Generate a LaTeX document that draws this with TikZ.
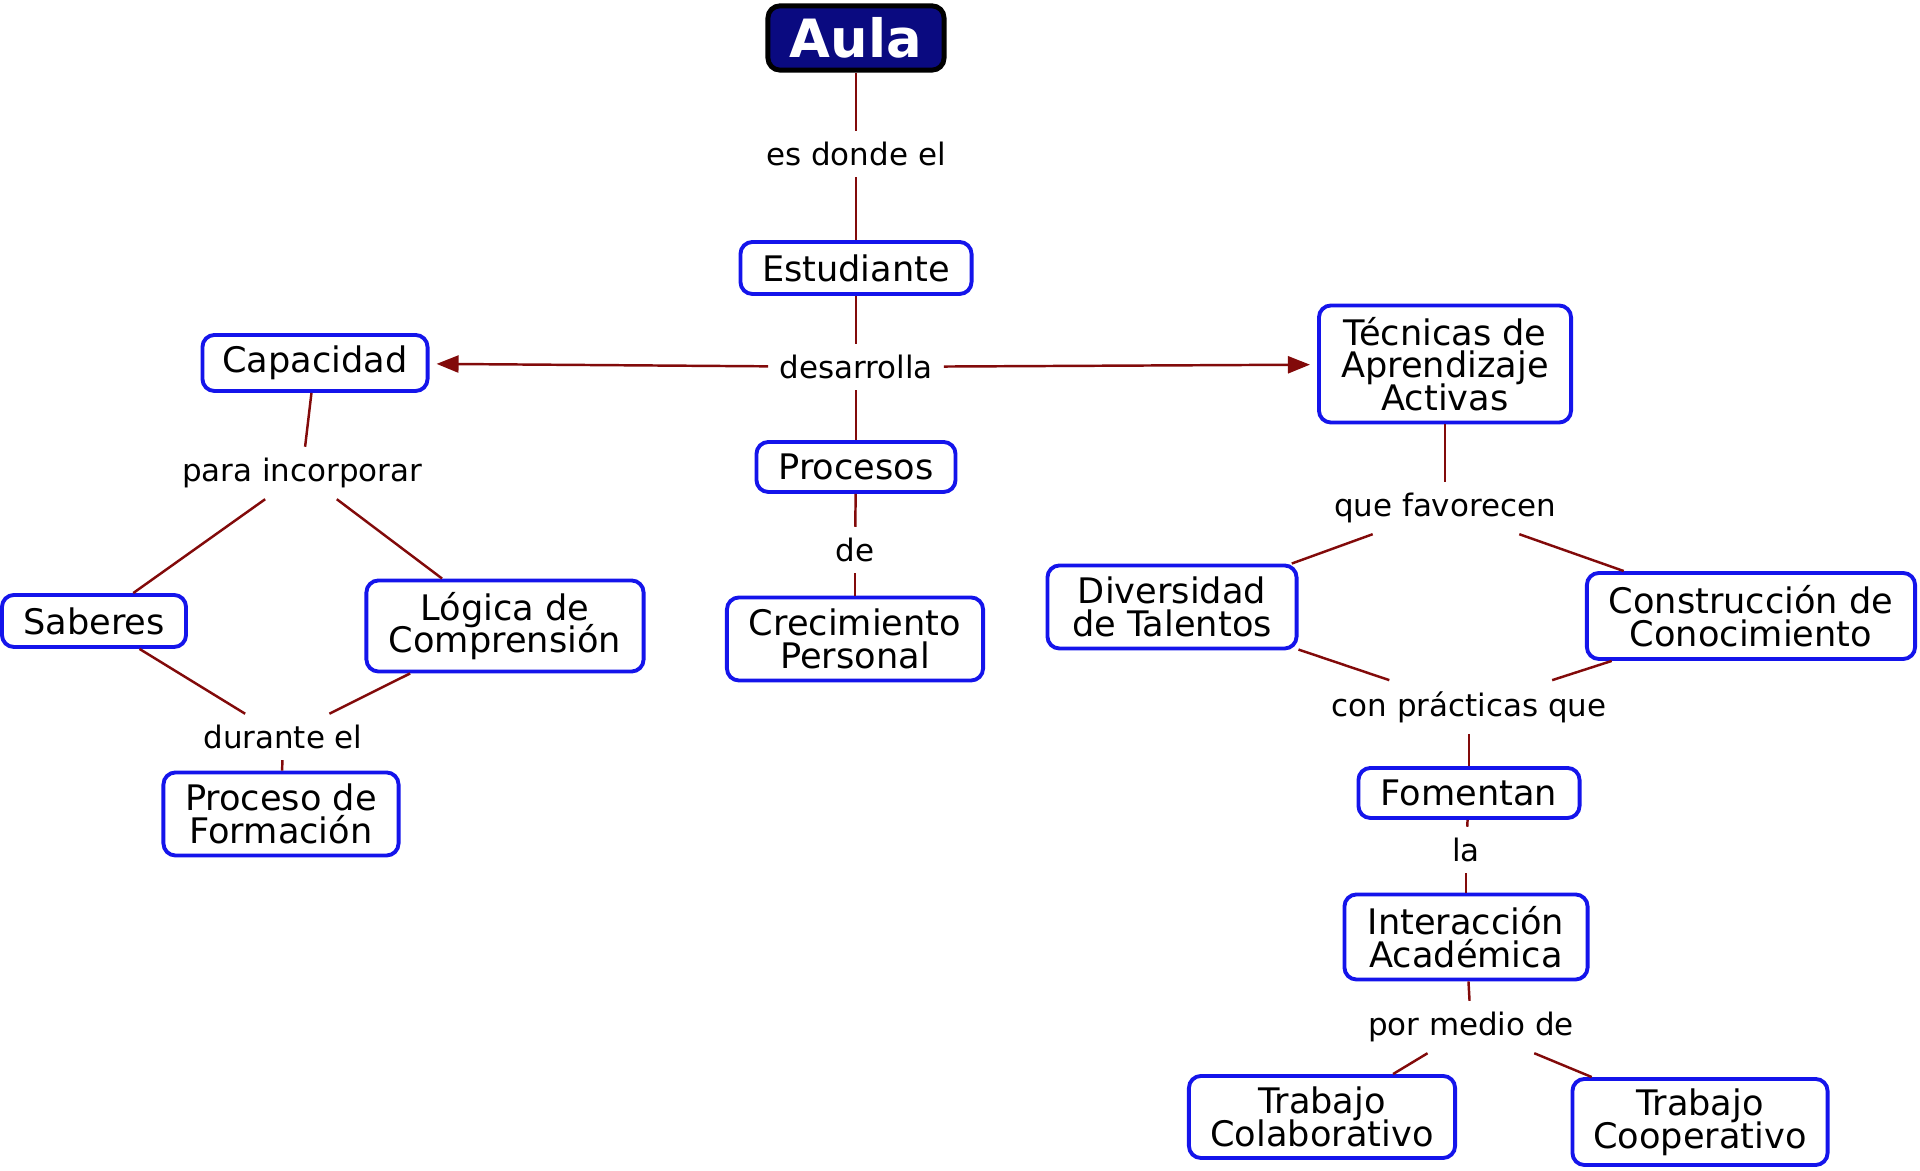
\documentclass[tikz,border=0pt]{standalone}
\usepackage{fontspec}
\setmainfont{DejaVu Sans}
\usetikzlibrary{arrows.meta}
\definecolor{borde}{RGB}{20,20,235}
\definecolor{rojoenlace}{RGB}{130,10,10}
\definecolor{marino}{RGB}{10,10,128}
\newcommand\apretado{\lineskiplimit=-100pt\relax}
\tikzset{
  concepto/.style={draw=borde, line width=1.1pt, rounded corners=0.12cm, fill=white,
    align=center, inner sep=1pt,
    font=\fontsize{10}{9.3}\selectfont\apretado},
  aula/.style={draw=black, line width=1.4pt, rounded corners=0.12cm, fill=marino,
    text=white, font=\fontsize{15}{16}\selectfont\bfseries,
    minimum width=1.76cm, minimum height=0.63cm},
  enlace/.style={inner sep=3pt, font=\fontsize{8.8}{10}\selectfont},
  linea/.style={draw=rojoenlace, line width=0.7pt}
}
\begin{document}
\begin{tikzpicture}[x=0.01cm, y=-0.01cm, >={Triangle[length=0.22cm,width=0.17cm]}]
\useasboundingbox (0,0) rectangle (1920,1171);
% centro
\node[aula] (aula) at (856,38) {Aula};
\node[enlace] (esdonde) at (856,154) {es donde el};
\node[concepto, minimum width=2.31cm, minimum height=0.52cm] (estudiante) at (856,268) {Estudiante};
\node[enlace] (desarrolla) at (856,367) {desarrolla};
\node[concepto, minimum width=1.99cm, minimum height=0.50cm] (procesos) at (856,467) {Procesos};
\node[enlace] (de) at (855,550) {de};
\node[concepto, minimum width=2.56cm, minimum height=0.83cm] (crecimiento) at (855,639) {Crecimiento\\Personal};
% izquierda
\node[concepto, minimum width=2.25cm, minimum height=0.56cm] (capacidad) at (315,363) {Capacidad};
\node[enlace] (incorporar) at (302,473) {para incorporar};
\node[concepto, minimum width=1.84cm, minimum height=0.52cm] (saberes) at (94,621) {Saberes};
\node[concepto, minimum width=2.77cm, minimum height=0.91cm] (logica) at (505,626) {Lógica de\\Comprensión};
\node[enlace] (durante) at (283,737) {durante el};
\node[concepto, minimum width=2.35cm, minimum height=0.83cm] (formacion) at (281,814) {Proceso de\\Formación};
% derecha
\node[concepto, minimum width=2.52cm, minimum height=1.17cm] (tecnicas) at (1445,364) {Técnicas de\\Aprendizaje\\Activas};
\node[enlace] (favorecen) at (1445,508) {que favorecen};
\node[concepto, minimum width=2.49cm, minimum height=0.83cm] (diversidad) at (1172,607) {Diversidad\\de Talentos};
\node[concepto, minimum width=3.28cm, minimum height=0.86cm] (construccion) at (1751,616) {Construcción de\\Conocimiento};
\node[enlace] (practicas) at (1469,707) {con prácticas que};
\node[concepto, minimum width=2.21cm, minimum height=0.50cm] (fomentan) at (1469,793) {Fomentan};
\node[enlace] (la) at (1466,850) {la};
\node[concepto, minimum width=2.43cm, minimum height=0.85cm] (interaccion) at (1466,937) {Interacción\\Académica};
\node[enlace] (pormedio) at (1471,1027) {por medio de};
\node[concepto, minimum width=2.66cm, minimum height=0.82cm] (colaborativo) at (1322,1117) {Trabajo\\Colaborativo};
\node[concepto, minimum width=2.55cm, minimum height=0.86cm] (cooperativo) at (1700,1122) {Trabajo\\Cooperativo};
% enlaces
\draw[linea] (aula) -- (esdonde);
\draw[linea] (esdonde) -- (estudiante);
\draw[linea] (estudiante) -- (desarrolla);
\draw[linea] (desarrolla) -- (procesos);
\draw[linea, ->, shorten >=2pt] (desarrolla) -- (capacidad);
\draw[linea, ->, shorten >=2pt] (desarrolla) -- (tecnicas);
\draw[linea] (procesos) -- (de);
\draw[linea] (de) -- (crecimiento);
\draw[linea] (capacidad) -- (incorporar);
\draw[linea] (incorporar) -- (saberes);
\draw[linea] (incorporar) -- (logica);
\draw[linea] (saberes) -- (durante);
\draw[linea] (logica) -- (durante);
\draw[linea] (durante) -- (formacion);
\draw[linea] (tecnicas) -- (favorecen);
\draw[linea] (favorecen) -- (diversidad);
\draw[linea] (favorecen) -- (construccion);
\draw[linea] (diversidad) -- (practicas);
\draw[linea] (construccion) -- (practicas);
\draw[linea] (practicas) -- (fomentan);
\draw[linea] (fomentan) -- (la);
\draw[linea] (la) -- (interaccion);
\draw[linea] (interaccion) -- (pormedio);
\draw[linea] (pormedio) -- (colaborativo);
\draw[linea] (pormedio) -- (cooperativo);
\end{tikzpicture}
\end{document}
